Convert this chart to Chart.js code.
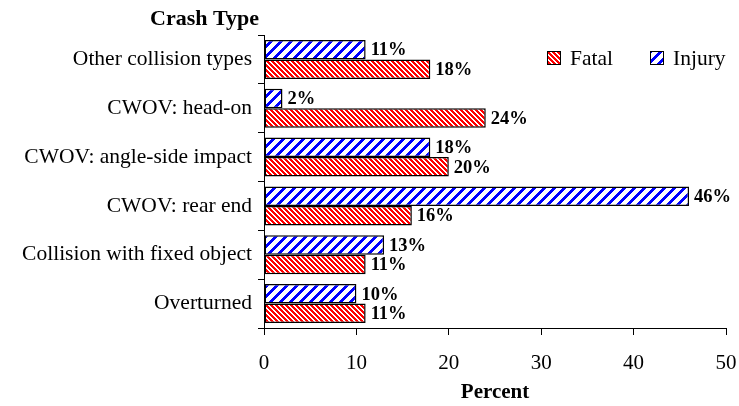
<!DOCTYPE html>
<html><head><meta charset="utf-8">
<script src="https://cdn.jsdelivr.net/npm/chart.js@4/dist/chart.umd.min.js"></script>
<style>html,body{margin:0;padding:0;background:#fff}#wrap{width:739px;height:406px;position:relative}</style>
</head><body><div id="wrap"><canvas id="c" width="739" height="406"></canvas></div>
<script>
const categories = ["Other collision types","CWOV: head-on","CWOV: angle-side impact","CWOV: rear end","Collision with fixed object","Overturned"];
const injury = [11, 2, 18, 46, 13, 10];
const fatal = [18, 24, 20, 16, 11, 11];
const xTicks = [0, 10, 20, 30, 40, 50];
const FONT = "'Liberation Serif','Times New Roman',serif";

function makePattern(color, period, width, dir) {
  const cv = document.createElement('canvas');
  cv.width = period; cv.height = period;
  const ctx = cv.getContext('2d');
  ctx.fillStyle = '#fff'; ctx.fillRect(0,0,period,period);
  ctx.fillStyle = color;
  for (let y=0;y<period;y++) for (let x=0;x<period;x++) {
    const v = dir > 0 ? (x + y) : (x - y + period*4);
    if (v % period < width) ctx.fillRect(x,y,1,1);
  }
  return ctx.createPattern(cv, 'repeat');
}
const fatalPat = makePattern('#ff0000', 5, 2.5, -1);
const injuryPat = makePattern('#0000ff', 10, 4, 1);

const labelPlugin = {
  id: 'barLabels',
  afterDatasetsDraw(chart) {
    const ctx = chart.ctx;
    ctx.save();
    ctx.font = "bold 18.5px " + FONT;
    ctx.fillStyle = '#000';
    ctx.textAlign = 'left'; ctx.textBaseline = 'middle';
    chart.data.datasets.forEach((ds, i) => {
      chart.getDatasetMeta(i).data.forEach((el, j) => {
        ctx.fillText(ds.data[j] + '%', el.x + 5, el.y + 1);
      });
    });
    // axis heading
    ctx.font = "bold 22px " + FONT;
    ctx.textAlign = 'right';
    ctx.fillText('Crash Type', 259, 19);
    // legend (Fatal first, then Injury)
    const items = [chart.data.datasets[1], chart.data.datasets[0]];
    const xs = [547, 650];
    ctx.font = "21.5px " + FONT;
    ctx.textAlign = 'left';
    items.forEach((ds, k) => {
      const bx = xs[k], by = 51;
      ctx.fillStyle = ds.backgroundColor;
      ctx.fillRect(bx, by, 14, 14);
      ctx.strokeStyle = '#000'; ctx.lineWidth = 1;
      ctx.strokeRect(bx + 0.5, by + 0.5, 13, 13);
      ctx.fillStyle = '#000';
      ctx.fillText(ds.label, bx + 23, by + 8);
    });
    ctx.restore();
  }
};

new Chart(document.getElementById('c'), {
  type: 'bar',
  data: {
    labels: categories,
    datasets: [
      { label: 'Injury', data: injury, backgroundColor: injuryPat, borderColor: '#000', borderWidth: 1.5, borderSkipped: false },
      { label: 'Fatal', data: fatal, backgroundColor: fatalPat, borderColor: '#000', borderWidth: 1.5, borderSkipped: false }
    ]
  },
  options: {
    indexAxis: 'y',
    responsive: false,
    animation: false,
    devicePixelRatio: 1,
    layout: { padding: { top: 35, right: 0, left: 0, bottom: 0 } },
    datasets: { bar: { categoryPercentage: 0.8, barPercentage: 1.0 } },
    plugins: {
      tooltip: { enabled: false },
      legend: { display: false }
    },
    scales: {
      x: {
        min: 0, max: 50,
        afterBuildTicks: (s) => { s.ticks = xTicks.map(v => ({ value: v })); },
        grid: { drawOnChartArea: false, drawTicks: true, tickLength: 7, color: '#000' },
        border: { display: true, color: '#000', width: 1 },
        ticks: { font: { family: FONT, size: 21 }, color: '#000', padding: 16 },
        title: { display: true, text: 'Percent', font: { family: FONT, size: 21, weight: 'bold' }, color: '#000', padding: { top: 0, bottom: 1 } },
        afterFit: (s) => { s.height = 78; s.paddingRight = 13; }
      },
      y: {
        grid: { drawOnChartArea: false, drawTicks: true, tickLength: 6, color: '#000', offset: true },
        border: { display: true, color: '#000', width: 1 },
        ticks: { font: { family: FONT, size: 21.5 }, color: '#000', padding: 6 },
        afterFit: (s) => { s.width = 264; }
      }
    }
  },
  plugins: [labelPlugin]
});
</script></body></html>
